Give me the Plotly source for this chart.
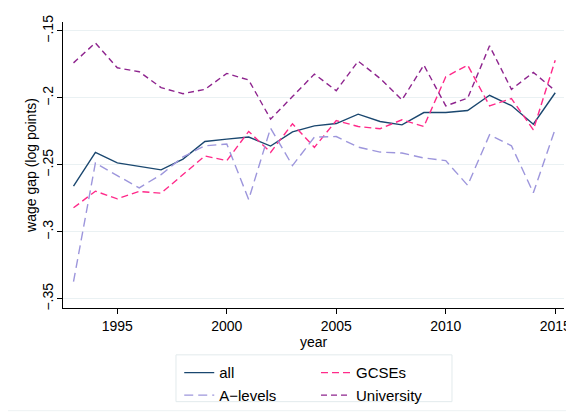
import plotly.graph_objects as go

years = list(range(1993, 2016))

gap_all = [-0.2659, -0.2406, -0.2485, -0.2510, -0.2537, -0.2456, -0.2325, -0.2307,
           -0.2292, -0.2359, -0.2253, -0.2208, -0.2191, -0.2121, -0.2176, -0.2201,
           -0.2109, -0.2109, -0.2094, -0.1980, -0.2057, -0.2196, -0.1961]
gap_gcse = [-0.2820, -0.2696, -0.2753, -0.2698, -0.2711, -0.2572, -0.2433, -0.2468,
            -0.2250, -0.2406, -0.2193, -0.2369, -0.2169, -0.2213, -0.2230, -0.2163,
            -0.2213, -0.1842, -0.1755, -0.2059, -0.2005, -0.2238, -0.1718]
gap_alevel = [-0.3372, -0.2485, -0.2580, -0.2671, -0.2572, -0.2440, -0.2357, -0.2344,
              -0.2758, -0.2225, -0.2505, -0.2292, -0.2288, -0.2367, -0.2404, -0.2411,
              -0.2448, -0.2468, -0.2652, -0.2275, -0.2357, -0.2708, -0.2230]
gap_uni = [-0.1738, -0.1589, -0.1775, -0.1804, -0.1923, -0.1968, -0.1936, -0.1817,
           -0.1866, -0.2158, -0.1990, -0.1822, -0.1946, -0.1725, -0.1854, -0.2015,
           -0.1755, -0.2059, -0.2002, -0.1611, -0.1936, -0.1809, -0.1946]

y_ticks = [-0.35, -0.3, -0.25, -0.2, -0.15]
y_labels = ["\u2212.35", "\u2212.3", "\u2212.25", "\u2212.2", "\u2212.15"]
x_ticks = [1995, 2000, 2005, 2010, 2015]

font = "Liberation Sans, Arial, sans-serif"

fig = go.Figure()
# two legend columns: all / A-levels on the left, GCSEs / University on the right
fig.add_trace(go.Scatter(x=years, y=gap_all, mode="lines", name="all",
                         line=dict(color="#1a476f", width=1.4), legend="legend"))
fig.add_trace(go.Scatter(x=years, y=gap_gcse, mode="lines", name="GCSEs",
                         line=dict(color="#ff2a8a", width=1.4, dash="7px,4px"),
                         legend="legend2"))
fig.add_trace(go.Scatter(x=years, y=gap_alevel, mode="lines", name="A\u2212levels",
                         line=dict(color="#9d96dc", width=1.4, dash="9px,5px"),
                         legend="legend"))
fig.add_trace(go.Scatter(x=years, y=gap_uni, mode="lines", name="University",
                         line=dict(color="#8e248e", width=1.4, dash="6px,4px"),
                         legend="legend2"))

leg = dict(orientation="v", yanchor="top", xanchor="left", bgcolor="rgba(0,0,0,0)",
           borderwidth=0, font=dict(size=15), tracegroupgap=0, traceorder="normal")

# the page body adds an 8px offset, so the figure is 8px smaller with 8px less margin
fig.update_layout(
    width=566, height=412,
    margin=dict(l=55, r=10, t=14, b=111),
    paper_bgcolor="white", plot_bgcolor="white",
    font=dict(family=font, size=14, color="black"),
    showlegend=True,
    legend=dict(leg, x=0.232, y=-0.165),
    legend2=dict(leg, x=0.505, y=-0.165),
    shapes=[
        dict(type="rect", xref="paper", yref="paper",
             x0=-0.112, x1=1.012, y0=-0.359, y1=1.052,
             line=dict(color="#edf2f3", width=1)),
        dict(type="rect", xref="paper", yref="paper",
             x0=0.2255, x1=0.7764, y0=-0.3275, y1=-0.1638,
             line=dict(color="#e2eaec", width=1)),
    ],
)
fig.update_xaxes(range=[1992.52, 2015.4], tickvals=x_ticks, showgrid=False,
                 showline=True, linecolor="black", linewidth=1,
                 ticks="outside", ticklen=5, tickcolor="black", automargin=False,
                 title=dict(text="year", font=dict(size=14), standoff=2),
                 tickfont=dict(size=14), zeroline=False)
fig.update_yaxes(range=[-0.3568, -0.1433], tickvals=y_ticks, ticktext=y_labels,
                 tickangle=-90, showgrid=True, gridcolor="#eaf1f3", gridwidth=1,
                 showline=True, linecolor="black", linewidth=1,
                 ticks="outside", ticklen=5, tickcolor="black", automargin=False,
                 ticklabelstandoff=-2,
                 title=dict(text="wage gap (log points)", font=dict(size=14), standoff=0),
                 tickfont=dict(size=14), zeroline=False)

fig.write_html("out.html")
